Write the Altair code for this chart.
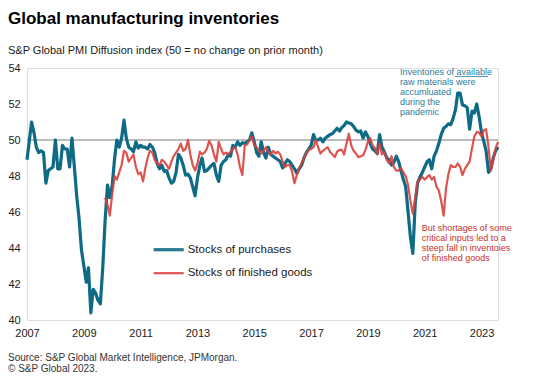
import altair as alt
import pandas as pd

# Stocks of purchases (blue), monthly Jan 2007 - Aug 2023
purchases = [
    48.9, 50.0, 51.0, 50.4, 49.6, 49.3, 49.4, 49.3, 47.6, 48.3, 48.4, 48.5,  # 2007
    50.0, 48.4, 48.4, 49.7, 49.5, 49.5, 48.5, 50.1, 48.5, 46.9, 45.6, 43.9,  # 2008
    43.0, 42.1, 42.9, 40.4, 41.7, 41.5, 41.1, 40.9, 42.9, 45.5, 47.5, 46.8,  # 2009
    47.5, 49.0, 50.0, 49.6, 50.1, 51.1, 50.1, 49.6, 49.5, 49.35, 49.9, 49.55,  # 2010
    49.7, 49.6, 49.6, 49.5, 49.75, 49.6, 49.3, 48.7, 48.4, 48.6, 48.25, 48.3,  # 2011
    47.9, 47.6, 47.7, 48.2, 49.2, 49.0, 48.6, 48.05, 48.1, 47.9, 47.4, 46.9,  # 2012
    47.9, 48.6, 49.0, 48.25, 48.3, 48.45, 48.6, 48.7, 48.05, 47.7, 48.6, 48.8,  # 2013
    48.9, 49.2, 49.1, 49.7, 49.6, 49.9, 49.7, 49.85, 49.8, 49.9, 50.0, 50.4,  # 2014
    49.9, 49.3, 49.1, 49.9, 49.3, 49.0, 49.6, 49.2, 49.1, 49.0, 48.9, 48.8,  # 2015
    48.45, 48.7, 48.9, 48.8, 48.6, 48.4, 48.15, 48.4, 48.6, 49.0, 49.3, 49.5,  # 2016
    49.7, 50.3, 50.0, 50.0, 50.1, 49.9, 50.1, 50.2, 50.3, 50.35, 50.5, 50.65,  # 2017
    50.5, 50.7, 50.8, 51.0, 50.95, 50.9, 50.75, 50.55, 50.45, 50.5, 50.1, 50.45,  # 2018
    50.2, 49.8, 49.5, 49.4, 49.25, 50.3, 49.6, 49.35, 49.0, 48.9, 48.6, 48.75,  # 2019
    49.1, 48.8, 48.3, 47.8, 47.4, 46.0, 44.6, 43.7, 46.5, 47.6, 47.95, 48.2,  # 2020
    48.5, 48.8, 48.9, 48.4, 49.1, 49.4, 49.8, 50.3, 50.65, 50.75, 50.9, 50.85,  # 2021
    51.2, 51.7, 52.6, 52.6, 51.95, 51.9, 51.8, 50.6, 51.6, 51.5, 52.0, 51.3,  # 2022
    50.4, 49.9, 49.4, 48.2, 48.4, 49.0, 49.4, 49.6,  # 2023
]

# Stocks of finished goods (red), monthly Oct 2009 - Aug 2023
finished = [
    46.8, 46.4, 45.8,  # 2009
    47.0, 48.0, 47.8, 48.2, 48.6, 49.4, 49.3, 48.8, 49.0, 49.2, 48.5, 48.1,  # 2010
    48.2, 47.7, 48.4, 49.0, 49.4, 49.3, 48.9, 48.7, 48.6, 48.9, 48.8, 48.6,  # 2011
    48.4, 48.8, 49.1, 49.3, 49.5, 49.8, 49.4, 49.5, 50.0, 49.2, 48.6, 48.3,  # 2012
    48.7, 49.35, 49.2, 49.3, 49.5, 49.95, 49.7, 49.2, 48.8, 49.9, 49.5, 49.2,  # 2013
    49.3, 49.2, 49.35, 49.5, 49.6, 49.2, 48.5, 48.05, 49.7, 49.75, 50.0, 50.2,  # 2014
    49.7, 49.6, 49.4, 49.25, 49.4, 49.6, 49.35, 49.2, 49.4, 49.25, 49.35, 49.2,  # 2015
    48.8, 48.5, 48.6, 48.6, 48.25, 47.6, 48.05, 48.45, 48.7, 49.0, 49.25, 49.45,  # 2016
    49.5, 49.6, 50.0, 49.6, 49.25, 49.4, 49.5, 49.6, 49.35, 49.2, 49.05, 49.35,  # 2017
    49.45, 49.45, 49.2, 49.8, 50.35, 49.7, 49.4, 49.25, 49.05, 49.1, 49.15, 49.45,  # 2018
    49.9, 50.1, 49.7, 49.55, 49.2, 49.8, 49.2, 49.35, 48.9, 48.7, 49.1, 48.5,  # 2019
    48.3, 48.3, 48.45, 48.2, 48.0, 47.5, 46.6, 45.9, 46.8, 47.7, 47.8, 47.95,  # 2020
    47.8, 47.95, 48.05, 47.8, 47.95, 47.4, 47.2, 46.6, 45.8, 47.3, 48.1, 48.6,  # 2021
    48.5, 48.5, 48.7, 48.5, 48.05, 48.4, 48.6, 48.8, 49.55, 50.2, 50.45, 50.4,  # 2022
    50.2, 50.55, 50.6, 49.6, 48.3, 48.9, 49.55, 49.9,  # 2023
]

series_names = ["Stocks of purchases", "Stocks of finished goods"]
series_colors = ["#0f6a86", "#d9403c"]
y_ticks = [40, 42, 44, 46, 48, 50, 52, 54]
x_tick_years = [2007, 2009, 2011, 2013, 2015, 2017, 2019, 2021, 2023]

title_text = "Global manufacturing inventories"
subtitle_text = "S&P Global PMI Diffusion index (50 = no change on prior month)"
note_blue = ["Inventories of available", "raw materials were", "accumluated", "during the", "pandemic"]
note_red = ["But shortages of some", "critical inputs led to a", "steep fall in inventoies", "of finished goods"]
source_lines = ["Source: S&P Global Market Intelligence, JPMorgan.", "\u00a9 S&P Global 2023."]

FONT = "Liberation Sans"

dates_p = pd.date_range("2007-01-01", periods=len(purchases), freq="MS")
dates_f = pd.date_range("2009-10-01", periods=len(finished), freq="MS")
df = pd.concat([
    pd.DataFrame({"date": dates_p, "value": purchases, "series": series_names[0]}),
    pd.DataFrame({"date": dates_f, "value": finished, "series": series_names[1]}),
])
ref_df = pd.DataFrame({"start": [dates_p[0]], "end": [dates_p[-1]], "value": [50]})

x_scale = alt.Scale(domain=[alt.DateTime(year=2007, month=1, date=1),
                            alt.DateTime(year=2023, month=8, date=1)])
y_scale = alt.Scale(domain=[40, 54], nice=False)

x_axis = alt.Axis(values=[alt.DateTime(year=y, month=1, date=1) for y in x_tick_years],
                  format="%Y", grid=False, domain=False, ticks=False, labelFlush=False,
                  labelPadding=7, labelFontSize=11, labelFont=FONT, labelColor="#1a1a1a",
                  title=None)
y_axis = alt.Axis(values=y_ticks, grid=False, domain=False, ticks=False,
                  labelAlign="left", labelPadding=19, labelFontSize=11, labelFont=FONT,
                  labelColor="#1a1a1a", title=None)

rule = alt.Chart(ref_df).mark_rule(color="#a6a6a6", strokeWidth=1.3).encode(
    x=alt.X("start:T", scale=x_scale, axis=x_axis),
    x2="end:T",
    y=alt.Y("value:Q", scale=y_scale, axis=y_axis),
)

base = alt.Chart(df).mark_line(strokeJoin="round").encode(
    x=alt.X("date:T", scale=x_scale, axis=x_axis),
    y=alt.Y("value:Q", scale=y_scale, axis=y_axis),
    color=alt.Color("series:N",
                    scale=alt.Scale(domain=series_names, range=series_colors),
                    legend=alt.Legend(title=None, orient="none", legendX=124.7, legendY=164.7,
                                      symbolType="stroke", symbolSize=900, symbolStrokeWidth=2.8,
                                      labelFontSize=11.5, labelFont=FONT, labelColor="#1a1a1a",
                                      labelOffset=2, rowPadding=0, padding=0)),
    strokeWidth=alt.StrokeWidth("series:N",
                                scale=alt.Scale(domain=series_names, range=[3.2, 2.2]),
                                legend=None),
)
blue_line = base.transform_filter(alt.datum.series == series_names[0])
red_line = base.transform_filter(alt.datum.series == series_names[1]).mark_line(strokeJoin="round", opacity=0.9)

one = pd.DataFrame({"a": [0]})
ann_blue = alt.Chart(one).mark_text(align="left", baseline="alphabetic", fontSize=9, lineHeight=10,
                                    font=FONT, color="#2a7b9b").encode(
    x=alt.value(373), y=alt.value(7), text=alt.value(note_blue))
underline = alt.Chart(one).mark_rule(color="#2a7b9b", strokeWidth=0.8).encode(
    x=alt.value(428), x2=alt.value(461), y=alt.value(8.5))
ann_red = alt.Chart(one).mark_text(align="left", baseline="alphabetic", fontSize=9, lineHeight=10,
                                   font=FONT, color="#c8302e").encode(
    x=alt.value(394.7), y=alt.value(163), text=alt.value(note_red))
source = alt.Chart(one).mark_text(align="left", baseline="alphabetic", fontSize=10, lineHeight=11.5,
                                  font=FONT, color="#333333").encode(
    x=alt.value(-19), y=alt.value(292.5), text=alt.value(source_lines))

chart = alt.layer(rule, blue_line, red_line, ann_blue, underline, ann_red, source).properties(
    width=471, height=252,
    title=alt.TitleParams(text=title_text, subtitle=subtitle_text, anchor="start", frame="group",
                          dx=-19, offset=5, fontSize=17, fontWeight="bold", font=FONT,
                          color="#000000", subtitleFont=FONT, subtitleFontSize=11,
                          subtitleColor="#1a1a1a", subtitlePadding=17),
    autosize=alt.AutoSizeParams(type="none"),
    padding={"left": 19, "top": 60, "right": 29, "bottom": 53},
).configure_view(stroke=None).configure(background="white")

chart.save("out.html", embed_options={"renderer": "svg", "actions": False})
